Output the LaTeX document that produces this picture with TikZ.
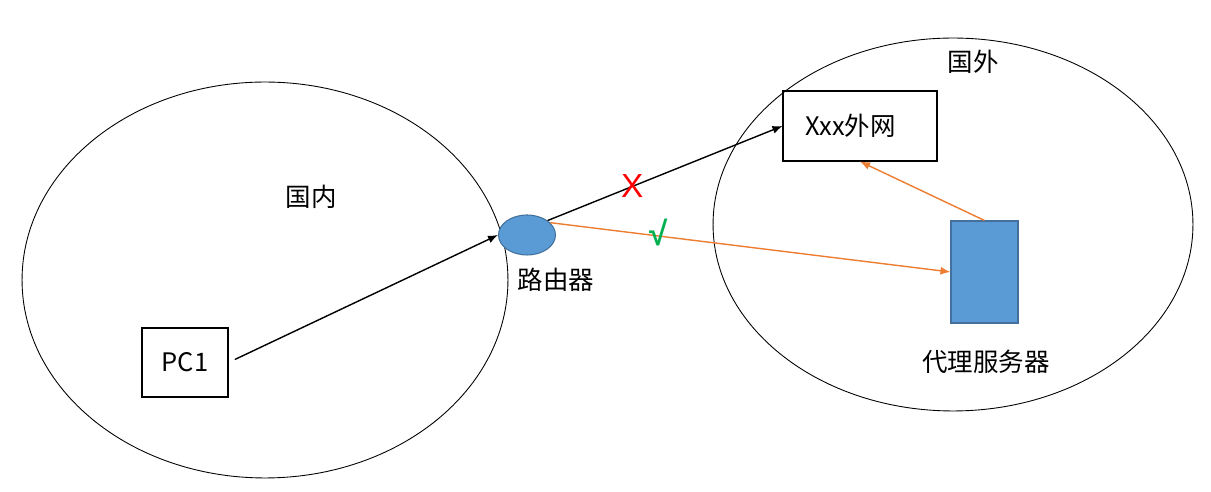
\documentclass[tikz,border=0pt]{standalone}
\usepackage{fontspec}
\setmainfont{Noto Sans CJK SC}
\newfontfamily\markfont{Liberation Sans}
\usetikzlibrary{shapes.geometric,arrows.meta}
\definecolor{nodeblue}{HTML}{5B9BD5}
\definecolor{edgeblue}{HTML}{41719C}
\definecolor{okorange}{HTML}{ED7D31}
\definecolor{okgreen}{HTML}{00B050}
\begin{document}
\begin{tikzpicture}[x=0.02cm, y=-0.02cm, font=\fontsize{14.5pt}{16pt}\selectfont,
    link/.style={line width=0.8pt, -{Latex[length=2mm,width=1.6mm]}}]
        \useasboundingbox (0, 0) rectangle (1211, 492);
        \node [ellipse, draw, line width=0.5pt, minimum width=9.72cm, minimum height=7.92cm] (home) at (265, 280) {};
        \node [ellipse, draw, line width=0.5pt, minimum width=9.6cm, minimum height=7.46cm] (abroad) at (953, 224.5) {};
        \node (homelabel) at (311, 197) {国内};
        \node (abroadlabel) at (973, 62) {国外};
        \node [draw, line width=0.6pt, minimum width=1.72cm, minimum height=1.38cm] (pc) at (185, 362.5) {PC1};
        \node [draw, line width=0.6pt, text width=2.2cm, inner xsep=0.44cm, align=left, minimum height=1.4cm] (web) at (860, 126) {Xxx外网};
        \node [ellipse, fill=nodeblue, draw=edgeblue, line width=0.6pt, minimum width=1.14cm, minimum height=0.8cm, inner sep=0pt] (router) at (527, 235) {};
        \node (routerlabel) at (556, 280) {路由器};
        \node [rectangle, fill=nodeblue, draw=edgeblue, line width=0.6pt, minimum width=1.34cm, minimum height=2.04cm] (proxy) at (984.5, 272) {};
        \node (proxylabel) at (986, 362) {代理服务器};
        \draw [link, black, shorten <=0.14cm] (pc.east) -- (router.west);
        \draw [link, black] (router.35) -- (web.west) node [pos=0.36, red, font=\markfont\fontsize{19pt}{21pt}\selectfont] {X};
        \draw [link, okorange] (router.28) -- (proxy.west) node [pos=0.27, okgreen, yshift=0.06cm, font=\markfont\bfseries\fontsize{19pt}{21pt}\selectfont] {√};
        \draw [link, okorange] (proxy.north) -- (web.south);
    \end{tikzpicture}
\end{document}
